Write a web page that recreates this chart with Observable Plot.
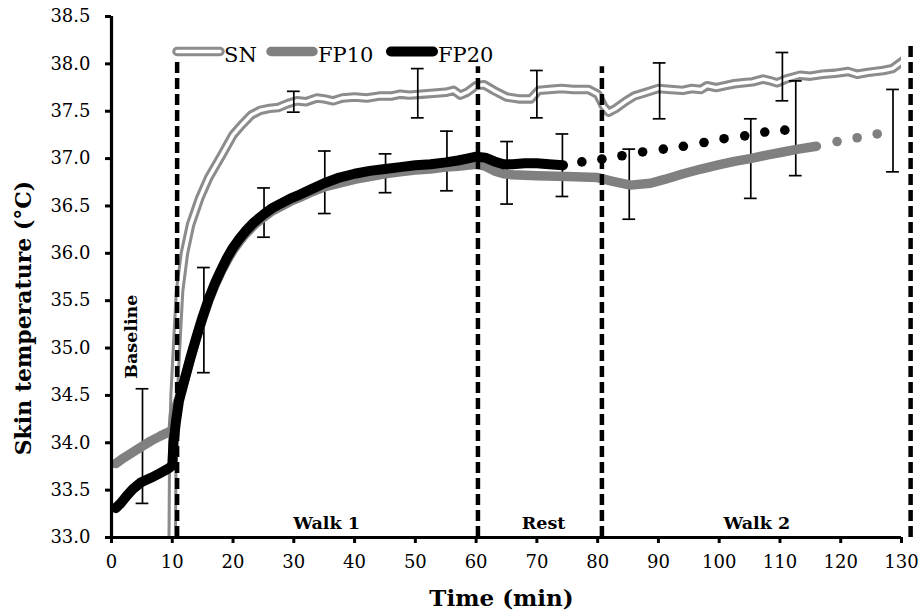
<!DOCTYPE html>
<html>
<head>
<meta charset="utf-8">
<script src="https://cdn.jsdelivr.net/npm/d3@7"></script>
<script src="https://cdn.jsdelivr.net/npm/@observablehq/plot@0.6"></script>
<style>
  html, body { margin: 0; padding: 0; background: #fff; }
  #wrap { position: relative; width: 922px; height: 610px; }
  #legend { position: absolute; left: 0; top: 0; pointer-events: none; }
</style>
</head>
<body>
<div id="wrap"></div>
<script>
// ---------- data ----------
const xTicks = [0, 10, 20, 30, 40, 50, 60, 70, 80, 90, 100, 110, 120, 130];
const yTicks = [33.0, 33.5, 34.0, 34.5, 35.0, 35.5, 36.0, 36.5, 37.0, 37.5, 38.0, 38.5];

const snTime = [9.95, 10.1, 10.3, 10.7, 11.2, 12.0, 13.0, 14.5, 16.0, 18.0, 20.0, 21.5, 23.0, 24.5, 26.0, 27.5, 29.0, 30.5, 32.0, 33.8, 35.0, 36.5, 38.0, 40.0, 42.0, 44.0, 46.0, 47.5, 49.0, 51.0, 53.0, 55.0, 56.3, 57.4, 58.5, 60.0, 61.3, 62.9, 65.0, 67.0, 69.0, 70.3, 72.0, 74.0, 76.0, 78.5, 80.0, 81.0, 81.8, 83.0, 84.5, 86.0, 88.0, 90.0, 92.0, 94.0, 95.5, 97.0, 98.0, 99.5, 101.0, 102.5, 104.0, 105.5, 107.2, 108.5, 109.5, 111.0, 113.3, 115.0, 117.0, 119.0, 121.2, 122.7, 124.5, 127.0, 128.5, 130.2];
const snTemp = [32.6, 34.0, 34.5, 35.0, 35.6, 36.0, 36.3, 36.58, 36.8, 37.02, 37.25, 37.36, 37.46, 37.51, 37.53, 37.54, 37.58, 37.61, 37.60, 37.64, 37.63, 37.61, 37.64, 37.65, 37.64, 37.66, 37.66, 37.68, 37.67, 37.68, 37.69, 37.70, 37.72, 37.67, 37.70, 37.77, 37.78, 37.72, 37.65, 37.63, 37.63, 37.72, 37.73, 37.74, 37.73, 37.73, 37.68, 37.55, 37.49, 37.53, 37.60, 37.66, 37.70, 37.74, 37.73, 37.72, 37.74, 37.73, 37.77, 37.75, 37.77, 37.79, 37.80, 37.81, 37.84, 37.82, 37.80, 37.84, 37.88, 37.87, 37.89, 37.90, 37.92, 37.89, 37.91, 37.93, 37.95, 38.03];

const fp10Time = [0.7, 2.0, 3.5, 5.0, 6.5, 8.0, 9.6, 10.0, 10.2, 11.1, 12, 13, 14, 15, 16, 17, 18, 19, 20, 21, 22, 23.5, 25, 26.5, 28, 29.5, 31, 33, 35, 37.5, 40, 42.5, 45, 47.5, 50, 52.5, 55, 57, 58.5, 60, 61.5, 63, 64.5, 66, 70, 75, 80, 82.5, 85.4, 88.7, 91, 94.1, 97, 99.7, 102.5, 105.1, 108, 110.5, 113, 116];
const fp10Temp = [33.78, 33.84, 33.90, 33.96, 34.02, 34.07, 34.12, 34.14, 34.30, 34.47, 34.66, 34.89, 35.11, 35.31, 35.50, 35.66, 35.80, 35.92, 36.03, 36.12, 36.20, 36.30, 36.38, 36.45, 36.50, 36.55, 36.59, 36.65, 36.70, 36.74, 36.78, 36.81, 36.84, 36.86, 36.88, 36.89, 36.91, 36.92, 36.93, 36.94, 36.92, 36.87, 36.84, 36.83, 36.82, 36.81, 36.80, 36.76, 36.72, 36.74, 36.78, 36.84, 36.89, 36.93, 36.97, 37.00, 37.04, 37.07, 37.10, 37.13];
const fp10DotTime = [119.4, 122.7, 126.0];
const fp10DotTemp = [37.18, 37.22, 37.26];

const fp20Time = [0.7, 1.5, 2.5, 3.5, 4.8, 6.5, 8.0, 9.4, 10.0, 10.2, 10.6, 11.1, 12, 13, 14, 15, 16, 17, 18, 19, 20, 21, 22, 23.5, 25, 26.5, 28, 29.5, 31, 33, 35, 37.5, 40, 42.5, 45, 47.5, 50, 52.5, 55, 57, 58.5, 60, 61.5, 63, 64.5, 66, 68, 70, 72, 74.3];
const fp20Temp = [33.31, 33.36, 33.44, 33.51, 33.58, 33.63, 33.68, 33.73, 33.76, 34.00, 34.22, 34.44, 34.66, 34.90, 35.12, 35.33, 35.52, 35.68, 35.82, 35.95, 36.06, 36.15, 36.23, 36.33, 36.41, 36.48, 36.53, 36.58, 36.62, 36.68, 36.74, 36.80, 36.84, 36.87, 36.89, 36.91, 36.93, 36.94, 36.96, 36.98, 37.00, 37.02, 37.01, 36.97, 36.94, 36.94, 36.95, 36.95, 36.94, 36.93];
const fp20DotTime = [77.4, 80.7, 84.0, 87.4, 90.8, 94.1, 97.5, 100.8, 104.2, 107.5, 110.8];
const fp20DotTemp = [36.965, 36.994, 37.03, 37.07, 37.10, 37.13, 37.17, 37.21, 37.24, 37.28, 37.30];

const errTime = [5.1, 15.2, 25.1, 30.0, 35.1, 45.1, 50.4, 55.2, 65.1, 70.0, 74.2, 85.2, 90.2, 105.2, 110.4, 112.6, 128.6];
const errLow  = [33.36, 34.74, 36.17, 37.49, 36.42, 36.64, 37.43, 36.66, 36.52, 37.43, 36.60, 36.36, 37.42, 36.58, 37.61, 36.82, 36.86];
const errHigh = [34.57, 35.85, 36.69, 37.71, 37.08, 37.05, 37.95, 37.29, 37.18, 37.93, 37.26, 37.10, 38.01, 37.42, 38.12, 37.82, 37.73];

const phaseBoundTime = [10.8, 60.3, 80.7, 131.5];
const phaseBoundTop = [38.02, 37.97, 37.97, 38.2];

const phaseNames = ["Walk 1", "Rest", "Walk 2"];
const phaseNameTime = [35.4, 71.1, 106.2];
const phaseNameTemp = [33.09, 33.09, 33.09];

const baselineLabel = {t: 3.3, v: 35.12, text: "Baseline"};

const seriesNames = ["SN", "FP10", "FP20"];

// ---------- tables ----------
const zip = (ts, vs) => ts.map((t, i) => ({t, v: vs[i]}));
const sn = zip(snTime, snTemp);
const fp10 = zip(fp10Time, fp10Temp);
const fp20 = zip(fp20Time, fp20Temp);
const fp10Dots = zip(fp10DotTime, fp10DotTemp);
const fp20Dots = zip(fp20DotTime, fp20DotTemp);
const errs = errTime.map((t, i) => ({t, lo: errLow[i], hi: errHigh[i]}));
const bounds = phaseBoundTime.map((t, i) => ({t, top: phaseBoundTop[i]}));
const phases = phaseNames.map((n, i) => ({n, t: phaseNameTime[i], v: phaseNameTemp[i]}));

const SN_GRAY = "#8c8c8c";
const FP10_GRAY = "#808080";
const CAP = 1.05;

const chart = Plot.plot({
  width: 922,
  height: 610,
  marginLeft: 111,
  marginRight: 21,
  marginTop: 16,
  marginBottom: 73,
  x: {domain: [0, 130]},
  y: {domain: [33, 38.5]},
  style: {fontFamily: "DejaVu Serif", fontSize: "18px", color: "#000", background: "#fff", overflow: "visible"},
  marks: [
    // SN double line
    Plot.line(sn, {x: "t", y: "v", stroke: SN_GRAY, strokeWidth: 9.5, strokeLinejoin: "round", clip: true}),
    Plot.line(sn, {x: "t", y: "v", stroke: "#fff", strokeWidth: 3.4, strokeLinejoin: "round", clip: true}),
    // error bars
    Plot.ruleX(errs, {x: "t", y1: "lo", y2: "hi", stroke: "#000", strokeWidth: 1.7}),
    Plot.ruleY(errs, {y: "lo", x1: d => d.t - CAP, x2: d => d.t + CAP, stroke: "#000", strokeWidth: 1.7}),
    Plot.ruleY(errs, {y: "hi", x1: d => d.t - CAP, x2: d => d.t + CAP, stroke: "#000", strokeWidth: 1.7}),
    // FP10
    Plot.line(fp10, {x: "t", y: "v", stroke: FP10_GRAY, strokeWidth: 9.5, strokeLinecap: "round", strokeLinejoin: "round"}),
    Plot.dot(fp10Dots, {x: "t", y: "v", r: 4.8, fill: FP10_GRAY, stroke: null}),
    // FP20
    Plot.line(fp20, {x: "t", y: "v", stroke: "#000", strokeWidth: 10, strokeLinecap: "round", strokeLinejoin: "round"}),
    Plot.dot(fp20Dots, {x: "t", y: "v", r: 4.8, fill: "#000", stroke: null}),
    // phase boundaries
    Plot.ruleX(bounds, {x: "t", y1: 33, y2: "top", stroke: "#000", strokeWidth: 4.5, strokeDasharray: "11,5"}),
    // phase labels
    Plot.text(phases, {x: "t", y: "v", text: "n", fontWeight: "bold", fontSize: 17.5, lineAnchor: "bottom"}),
    Plot.text([baselineLabel], {x: "t", y: "v", text: "text", rotate: -90, fontWeight: "bold", fontSize: 17.5, lineAnchor: "middle"}),
    // axes
    Plot.axisY({ticks: yTicks, tickFormat: d3.format(".1f"), tickSize: 6, tickPadding: 15, strokeWidth: 3, fontSize: 18, label: null}),
    Plot.axisX({ticks: xTicks, tickSize: 6, tickPadding: 12, strokeWidth: 3, fontSize: 18, label: null}),
    Plot.ruleX([0], {stroke: "#000", strokeWidth: 3.2}),
    Plot.ruleY([33], {stroke: "#000", strokeWidth: 3.2}),
    // axis titles
    Plot.text(["Time (min)"], {frameAnchor: "bottom", dx: -5, dy: 68, lineAnchor: "bottom", fontWeight: "bold", fontSize: 23}),
    Plot.text(["Skin temperature (°C)"], {frameAnchor: "left", textAnchor: "middle", dx: -88, dy: 41, rotate: -90, lineAnchor: "middle", fontWeight: "bold", fontSize: 22})
  ]
});

const wrap = document.getElementById("wrap");
wrap.appendChild(chart);

// ---------- legend (overlay, inside the plot area) ----------
const ns = "http://www.w3.org/2000/svg";
const leg = document.createElementNS(ns, "svg");
leg.setAttribute("id", "legend");
leg.setAttribute("width", 922);
leg.setAttribute("height", 610);
const legendItems = [
  {name: seriesNames[0], x1: 177, x2: 220, tx: 224, stroke: SN_GRAY, w: 9.5, inner: true},
  {name: seriesNames[1], x1: 271, x2: 313, tx: 318, stroke: FP10_GRAY, w: 9.5, inner: false},
  {name: seriesNames[2], x1: 391, x2: 433, tx: 438, stroke: "#000", w: 10, inner: false}
];
const ly = 51.5;
function addLine(x1, x2, stroke, w) {
  const l = document.createElementNS(ns, "line");
  l.setAttribute("x1", x1); l.setAttribute("x2", x2);
  l.setAttribute("y1", ly); l.setAttribute("y2", ly);
  l.setAttribute("stroke", stroke); l.setAttribute("stroke-width", w);
  l.setAttribute("stroke-linecap", "round");
  leg.appendChild(l);
}
legendItems.forEach(it => {
  addLine(it.x1, it.x2, it.stroke, it.w);
  if (it.inner) addLine(it.x1, it.x2, "#fff", 3.4);
  const t = document.createElementNS(ns, "text");
  t.setAttribute("x", it.tx);
  t.setAttribute("y", 61.5);
  t.setAttribute("font-family", "DejaVu Serif");
  t.setAttribute("font-size", 21);
  t.setAttribute("fill", "#000");
  t.textContent = it.name;
  leg.appendChild(t);
});
wrap.appendChild(leg);
</script>
</body>
</html>
